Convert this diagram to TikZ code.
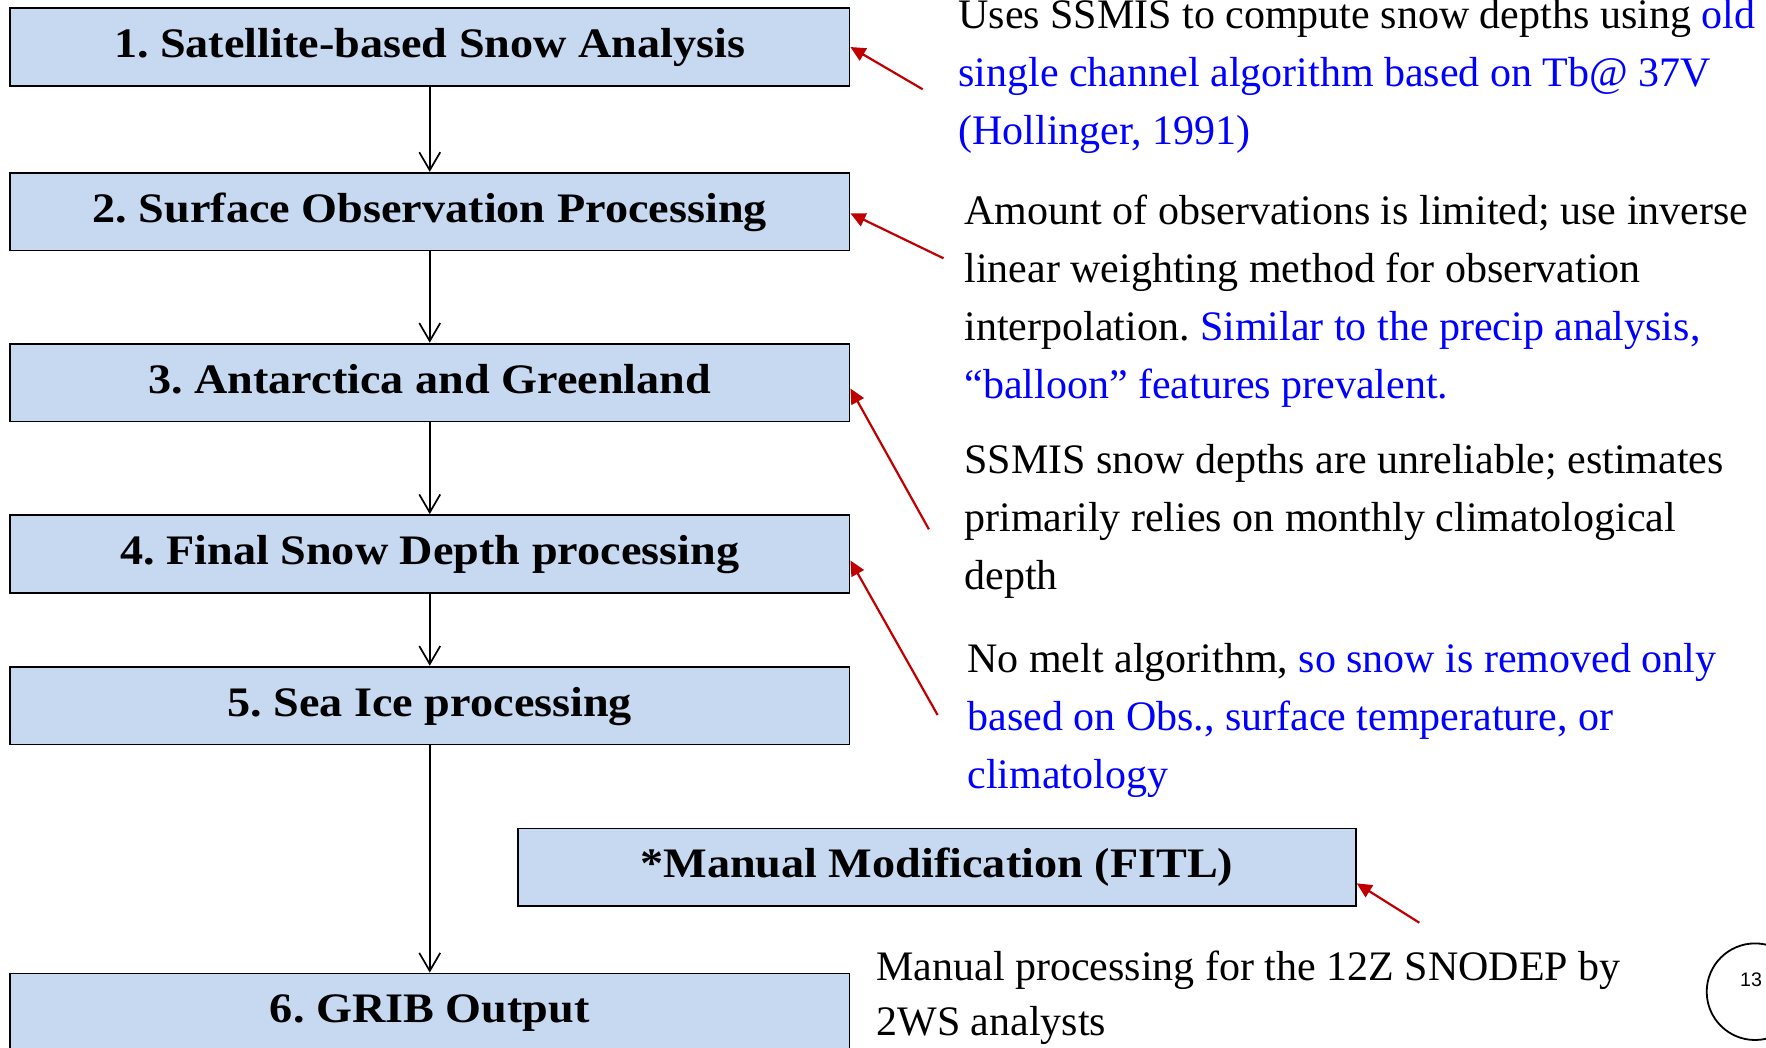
\documentclass[tikz,border=0pt]{standalone}
\usepackage{fontspec}
\setmainfont{Liberation Serif}[BoldFeatures={FakeStretch=1.1}]
\newfontfamily\pgnumfont{Liberation Sans}
\usetikzlibrary{arrows.meta,calc}
\definecolor{boxfill}{RGB}{198,217,241}
\definecolor{arrred}{RGB}{192,0,0}
\definecolor{txtblue}{RGB}{0,0,255}
\newcommand{\bl}[1]{\textcolor{txtblue}{#1}}
\frenchspacing
\begin{document}
\frenchspacing
\begin{tikzpicture}[x=0.5pt,y=-0.5pt,
  stepbox/.style={draw=black, line width=0.9pt, fill=boxfill, minimum width=419.75pt, minimum height=38.9pt, inner sep=0pt, font=\fontsize{21}{25}\selectfont\bfseries, text height=13pt, text depth=2.5pt},
  flow/.style={line width=0.85pt, -{Straight Barb[length=9pt,width=10.5pt]}},
  note/.style={anchor=base west, inner sep=0pt, font=\fontsize{21}{29}\selectfont},
  pointer/.style={draw=arrred, line width=1.1pt, -{Triangle[length=7.5pt,width=7pt]}}
]
\useasboundingbox (0,0) rectangle (1766,1048);
\clip (0,0) rectangle (1766,1048);

% flow boxes
\node[stepbox] (b1) at (429.75,47) {1. Satellite-based Snow Analysis};
\node[stepbox] (b2) at (429.75,211.7) {2. Surface Observation Processing};
\node[stepbox] (b3) at (429.75,382.5) {3. Antarctica and Greenland};
\node[stepbox] (b4) at (429.75,553.9) {4. Final Snow Depth processing};
\node[stepbox] (b5) at (429.75,705.5) {5. Sea Ice processing};
\node[stepbox] (b6) at (429.75,1012.4) {6. GRIB Output};
\node[stepbox, minimum width=419pt] (bm) at (936.8,867.3) {*Manual Modification (FITL)};

% flow arrows
\draw[flow] (b1.south) -- (b2.north);
\draw[flow] (b2.south) -- (b3.north);
\draw[flow] (b3.south) -- (b4.north);
\draw[flow] (b4.south) -- (b5.north);
\draw[flow] (b5.south) -- (b6.north);

% notes
\node[note] (t1) at (958,28.3) {\begin{tabular}[t]{@{}l@{}}Uses SSMIS to compute snow depths using \bl{old}\\ \bl{single channel algorithm based on Tb@ 37V}\\ \bl{(Hollinger, 1991)}\end{tabular}};
\node[note] (t2) at (964,225) {\begin{tabular}[t]{@{}l@{}}Amount of observations is limited; use inverse\\ linear weighting method for observation\\ interpolation. \bl{Similar to the precip analysis,}\\ \bl{“balloon” features prevalent.}\end{tabular}};
\node[note] (t3) at (964,473.6) {\begin{tabular}[t]{@{}l@{}}SSMIS snow depths are unreliable; estimates\\ primarily relies on monthly climatological\\ depth\end{tabular}};
\node[note] (t4) at (967,672.3) {\begin{tabular}[t]{@{}l@{}}No melt algorithm, \bl{so snow is removed only}\\ \bl{based on Obs., surface temperature, or}\\ \bl{climatology}\end{tabular}};
\node[note, font=\fontsize{21}{27.5}\selectfont] (t5) at (876,980) {\begin{tabular}[t]{@{}l@{}}Manual processing for the 12Z SNODEP by\\ 2WS analysts\end{tabular}};

% red pointers
\coordinate (c1) at (922.7,89.3);
\coordinate (c2) at (943.5,258.3);
\coordinate (c3) at (928.9,529.3);
\coordinate (c4) at (937.6,715);
\coordinate (c5) at (1419.3,922.7);
\draw[pointer] (c1) -- (b1.east);
\draw[pointer] (c2) -- ([yshift=-0.8pt]b2.east);
\draw[pointer] (c3) -- ([yshift=-3pt]b3.east);
\draw[pointer] (c4) -- ([yshift=-3.3pt]b4.east);
\draw[pointer] (c5) -- ([yshift=-8pt]bm.east);

% page number
\node[circle, draw=black, line width=0.9pt, minimum size=48.3pt, inner sep=0pt] (pg) at (1755,991.7) {};
\node[font=\pgnumfont\fontsize{9.8}{11}\selectfont, inner sep=0pt] (pgn) at (1751,980) {13};
\end{tikzpicture}
\end{document}
